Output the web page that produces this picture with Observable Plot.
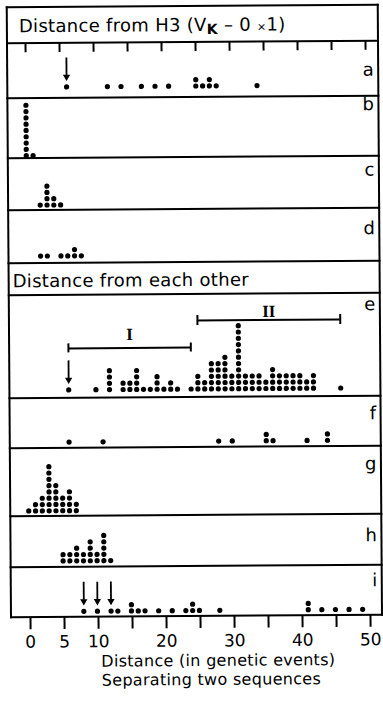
<!DOCTYPE html>
<html><head><meta charset="utf-8">
<script src="https://cdn.jsdelivr.net/npm/d3@7"></script>
<script src="https://cdn.jsdelivr.net/npm/@observablehq/plot@0.6"></script>
<style>
html,body{margin:0;padding:0;background:#fff;width:383px;height:704px;overflow:hidden}
#fig{position:absolute;left:0;top:0;width:383px;height:704px;transform:rotate(-0.4deg);transform-origin:194px 330px;font-family:"DejaVu Sans",sans-serif;color:#000}
.hl{position:absolute;left:8px;width:373px;height:2px;background:#000}
.vl{position:absolute;width:2px;background:#000}
.panel{position:absolute;left:9px}
.panel svg{display:block;overflow:visible}
.ttl{position:absolute;font-size:18px;line-height:18px;white-space:nowrap;letter-spacing:0.3px}
.ttl sub{font-size:14px;font-weight:bold;vertical-align:-3px;line-height:0}
.ttl small{font-size:11px}
.axt{position:absolute;font-size:16px;line-height:16px;white-space:nowrap;text-align:center;width:300px;letter-spacing:0.3px}
</style></head><body><div id="fig"></div>
<script>
// ---------- data (x = distance, count = dots stacked at that distance) ----------
const aValues = [6, 12, 14, 17, 19, 21, 25, 26, 27, 28, 34];
const aCounts = [1, 1, 1, 1, 1, 1, 2, 1, 2, 1, 1];
const bValues = [0, 1];
const bCounts = [9, 1];
const cValues = [2, 3, 4, 5];
const cCounts = [1, 4, 2, 1];
const dValues = [2, 3, 5, 6, 7, 8];
const dCounts = [1, 1, 1, 1, 2, 1];
const eValues = [6, 10, 12, 14, 15, 16, 17, 18, 19, 20, 21, 22, 24, 25, 26, 27, 28, 29, 30, 31, 32, 33, 34, 35, 36, 37, 38, 39, 40, 41, 42, 46];
const eCounts = [1, 1, 4, 2, 2, 4, 1, 1, 3, 1, 2, 1, 1, 3, 2, 5, 5, 6, 3, 11, 3, 3, 3, 2, 4, 3, 3, 3, 3, 2, 3, 1];
const fValues = [6, 11, 28, 30, 35, 36, 41, 44];
const fCounts = [1, 1, 1, 1, 2, 1, 1, 2];
const gValues = [0, 1, 2, 3, 4, 5, 6, 7];
const gCounts = [1, 2, 3, 8, 5, 3, 4, 2];
const hValues = [5, 6, 7, 8, 9, 10, 11, 12];
const hCounts = [2, 2, 3, 2, 4, 2, 5, 1];
const iValues = [8, 10, 12, 13, 15, 16, 17, 19, 21, 23, 24, 25, 28, 41, 43, 45, 47, 49];
const iCounts = [1, 1, 1, 1, 2, 1, 1, 1, 1, 1, 2, 1, 1, 2, 1, 1, 1, 1];
const aArrows = [6];
const eArrows = [6];
const iArrows = [8, 10, 12];
const eRangeNames = ["I", "II"];
const eRangeStart = [6, 25];
const eRangeEnd = [24, 46];
const tickValues = [0, 5, 10, 15, 20, 25, 30, 35, 40, 45, 50];
const tickLabels = [0, 5, 10, 20, 30, 40, 50];
const title1 = 'Distance from H3 (V<sub>K</sub> – 0 <small>×</small>1)';
const title2 = "Distance from each other";
const axisTitle = ["Distance (in genetic events)", "Separating two sequences"];

// ---------- layout ----------
const fig = document.getElementById("fig");
const W = 371;               // plot width (between frame lines)
const xDomain = [-18 / 6.8, (W - 18) / 6.8];
const S = 6.3;               // vertical spacing of stacked dots (px)
const FONT = '"DejaVu Sans", sans-serif';

const panels = [
  {label: "a", values: aValues, counts: aCounts, arrows: aArrows, top: 42, bottom: 97, base: 85.5, ldy: 34.5, ticks: true},
  {label: "b", values: bValues, counts: bCounts, top: 97, bottom: 157, base: 154, ldy: 14},
  {label: "c", values: cValues, counts: cCounts, top: 157, bottom: 209, base: 203.5, ldy: 19.5},
  {label: "d", values: dValues, counts: dCounts, top: 209, bottom: 262, base: 254.5, ldy: 26},
  {label: "e", values: eValues, counts: eCounts, arrows: eArrows, top: 294, bottom: 397, base: 388.5, ldy: 17, ranges: true},
  {label: "f", values: fValues, counts: fCounts, top: 397, bottom: 447, base: 440.7, ldy: 23},
  {label: "g", values: gValues, counts: gCounts, top: 447, bottom: 515, base: 509.3, ldy: 23.5},
  {label: "h", values: hValues, counts: hCounts, top: 515, bottom: 566, base: 559.5, ldy: 27},
  {label: "i", values: iValues, counts: iCounts, arrows: iArrows, top: 566, bottom: 616, base: 610, ldy: 21}
];

function stack(values, counts) {
  const out = [];
  values.forEach((v, j) => { for (let k = 0; k < counts[j]; k++) out.push({x: v, k}); });
  return out;
}

function add(el, top) {
  const d = document.createElement("div");
  d.className = "panel";
  d.style.top = top + "px";
  d.appendChild(el);
  fig.appendChild(d);
}

for (const p of panels) {
  const H = p.bottom - p.top;
  const px = (v) => v / S;   // pixel distance -> rows
  const marks = [
    Plot.dot(stack(p.values, p.counts), {x: "x", y: "k", r: 2.6, fill: "#000", stroke: "none"}),
    Plot.text([p.label], {frameAnchor: "top-right", text: d => d, textAnchor: "end", lineAnchor: "bottom", dx: -5, dy: p.ldy, fontSize: 18, fontFamily: FONT, fill: "#000"})
  ];
  if (p.arrows) {
    marks.push(Plot.ruleX(p.arrows, {x: d => d, y1: px(29), y2: px(11), stroke: "#000", strokeWidth: 1.8}));
    marks.push(Plot.dot(p.arrows, {x: d => d, y: px(10), symbol: "triangle", r: 2.7, rotate: 180, fill: "#000", stroke: "none"}));
  }
  if (p.ticks) {
    const yTop = px(p.base - p.top);
    marks.push(Plot.ruleX(tickValues, {x: d => d, y1: yTop, y2: yTop - px(9), stroke: "#000", strokeWidth: 2}));
  }
  if (p.ranges) {
    const yr = [px(41.5), px(68.5)];
    const cap = [px(4.5), px(5)];
    const ly = [px(55), px(77)];
    const R = eRangeNames.map((n, j) => ({n, x1: eRangeStart[j], x2: eRangeEnd[j], y: yr[j], c: cap[j], ly: ly[j]}));
    marks.push(Plot.ruleY(R, {x1: "x1", x2: "x2", y: "y", stroke: "#000", strokeWidth: 2}));
    marks.push(Plot.ruleX(R, {x: "x1", y1: d => d.y - d.c, y2: d => d.y + d.c, stroke: "#000", strokeWidth: 2}));
    marks.push(Plot.ruleX(R, {x: "x2", y1: d => d.y - d.c, y2: d => d.y + d.c, stroke: "#000", strokeWidth: 2}));
    marks.push(Plot.text(R, {x: d => (d.x1 + d.x2) / 2, y: "ly", text: "n", lineAnchor: "middle", fontSize: 17, fontWeight: "bold", fontFamily: '"Liberation Serif", "DejaVu Serif", serif', letterSpacing: -1, fill: "#000"}));
  }
  const chart = Plot.plot({
    width: W, height: H, margin: 0,
    x: {domain: xDomain, axis: null},
    y: {domain: [-(p.bottom - p.base) / S, (p.base - p.top) / S], axis: null},
    style: {background: "transparent", overflow: "visible"},
    marks
  });
  add(chart, p.top);
}

// bottom axis
const axis = Plot.plot({
  width: W, height: 40, marginTop: 0, marginBottom: 40, marginLeft: 0, marginRight: 0,
  x: {domain: xDomain},
  style: {background: "transparent", fontSize: "17px", fontFamily: FONT, overflow: "visible"},
  marks: [
    Plot.axisX(tickValues, {anchor: "bottom", tickSize: 12, tickPadding: 6, strokeWidth: 2, tickFormat: d => tickLabels.includes(d) ? String(d) : "", fontSize: 17, fill: "#000", color: "#000", dx: 1, label: null})
  ]
});
add(axis, 616);

// frame lines
[6, 42, 97, 157, 209, 262, 294, 397, 447, 515, 566, 616].forEach(y => {
  const d = document.createElement("div"); d.className = "hl"; d.style.top = (y - 1) + "px"; fig.appendChild(d);
});
[8, 379].forEach(x => {
  const d = document.createElement("div"); d.className = "vl"; d.style.left = x + "px"; d.style.top = "5px"; d.style.height = "612px"; fig.appendChild(d);
});

// titles
function ttl(html, left, baseline, cls, fs) {
  const d = document.createElement("div");
  d.className = cls || "ttl";
  d.innerHTML = html;
  d.style.left = left + "px";
  d.style.top = (baseline - 0.846 * fs) + "px";
  fig.appendChild(d);
  return d;
}
ttl(title1, 21, 31, "ttl", 18);
ttl(title2, 13, 286, "ttl", 18);
ttl(axisTitle[0], 216 - 150, 666.5, "axt", 16);
ttl(axisTitle[1], 209 - 150, 685.5, "axt", 16);
</script></body></html>
